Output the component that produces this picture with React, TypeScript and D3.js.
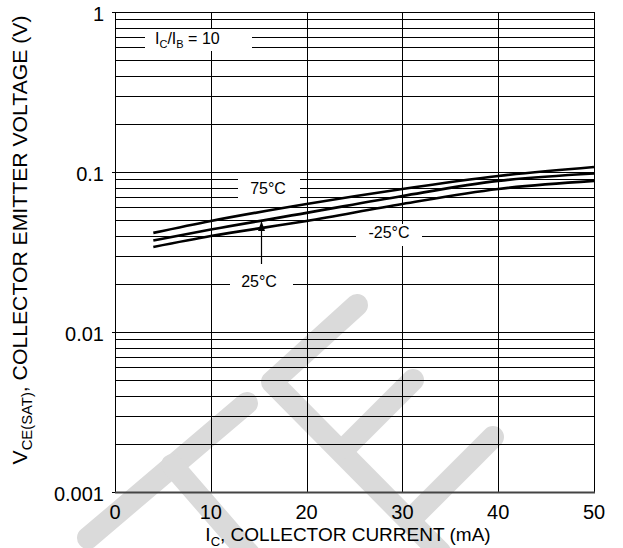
import React from "react";
import * as d3 from "d3";

const currents = [4, 10, 20, 30, 40, 50];
const vce75 = [0.0416, 0.0494, 0.0631, 0.0783, 0.0944, 0.1075];
const vce25 = [0.0373, 0.0437, 0.0555, 0.0708, 0.0879, 0.0979];
const vceM25 = [0.034, 0.0398, 0.0494, 0.0631, 0.0783, 0.0879];
const xTicks = [0, 10, 20, 30, 40, 50];
const yTicks = [0.001, 0.01, 0.1, 1];
const yTickLabels = ["0.001", "0.01", "0.1", "1"];

const W = 623;
const H = 548;
const left = 115;
const right = 594;
const top = 12;
const bottom = 492;
const FONT = "'Liberation Sans', Arial, sans-serif";

export default function App() {
  const x = d3.scaleLinear().domain([0, 50]).range([left, right]);
  const y = d3.scaleLog().domain([0.001, 1]).range([bottom, top]);

  const minor: number[] = [];
  for (let e = -3; e < 0; e++) {
    for (let m = 1; m < 10; m++) minor.push(m * Math.pow(10, e));
  }
  minor.push(1);

  const line = d3
    .line<[number, number]>()
    .x((d) => x(d[0]))
    .y((d) => y(d[1]))
    .curve(d3.curveMonotoneX);

  const series = [vce75, vce25, vceM25];

  const wm = "#dadada";
  const wmW = 22;

  return (
    <svg
      width={W}
      height={H}
      style={{ position: "absolute", left: 0, top: 0, background: "#fff" }}
      fontFamily={FONT}
    >
      <rect x={0} y={0} width={W} height={H} fill="#fff" />
      {/* watermark */}
      <g stroke={wm} strokeWidth={wmW} strokeLinecap="round" strokeLinejoin="round" fill="none">
        <polyline points="357,305 272,382 440,552" />
        <line x1={413} y1={380} x2={345} y2={448} />
        <line x1={493} y1={437} x2={415} y2={515} />
        <line x1={247} y1={403} x2={88} y2={538} />
        <line x1={172} y1={465} x2={250} y2={555} />
      </g>
      {/* grid */}
      <g stroke="#000" strokeWidth={1}>
        {minor.map((v, i) => (
          <line key={"h" + i} x1={left} x2={right} y1={Math.round(y(v)) + 0.5} y2={Math.round(y(v)) + 0.5} />
        ))}
        {xTicks.map((t) => (
          <line key={"v" + t} x1={Math.round(x(t)) + 0.5} x2={Math.round(x(t)) + 0.5} y1={top} y2={bottom} />
        ))}
      </g>
      <line x1={left} x2={right + 1} y1={bottom + 0.5} y2={bottom + 0.5} stroke="#444" strokeWidth={2} />
      {/* left tick stubs */}
      <g stroke="#000">
        {yTicks.map((t) => (
          <line key={"lt" + t} x1={left - 3} x2={left} y1={Math.round(y(t)) + 0.5} y2={Math.round(y(t)) + 0.5} />
        ))}
      </g>
      {/* curves */}
      {series.map((s, i) => (
        <path
          key={i}
          d={line(currents.map((c, j) => [c, s[j]] as [number, number])) || ""}
          fill="none"
          stroke="#000"
          strokeWidth={2.7}
        />
      ))}
      {/* label boxes */}
      <rect x={145} y={29} width={107} height={22} fill="#fff" />
      <text x={155} y={44} fontSize={16} fill="#000">
        I<tspan fontSize={11} dy={4}>C</tspan>
        <tspan dy={-4}>/I</tspan>
        <tspan fontSize={11} dy={4}>B</tspan>
        <tspan dy={-4}> = 10</tspan>
      </text>
      <rect x={238} y={175} width={62} height={23} fill="#fff" />
      <text x={268} y={194} fontSize={16} textAnchor="middle" fill="#000">75°C</text>
      <rect x={356} y={224} width={66} height={22} fill="#fff" />
      <text x={389} y={238} fontSize={16} textAnchor="middle" fill="#000">-25°C</text>
      <rect x={230} y={271} width={63} height={23} fill="#fff" />
      <text x={259} y={287} fontSize={16} textAnchor="middle" fill="#000">25°C</text>
      <line x1={261.5} x2={261.5} y1={264} y2={228} stroke="#000" strokeWidth={1.2} />
      <path d="M261.5,221 L258,231 L265,231 Z" fill="#000" />
      {/* y tick labels */}
      {yTicks.map((t, i) => (
        <text key={"yl" + t} x={104} y={y(t) + 9} fontSize={20} textAnchor="end" fill="#000">
          {yTickLabels[i]}
        </text>
      ))}
      {/* x tick labels */}
      {xTicks.map((t) => (
        <text key={"xl" + t} x={x(t)} y={519} fontSize={20} textAnchor="middle" fill="#000">
          {t}
        </text>
      ))}
      {/* axis titles */}
      <text x={348} y={541} fontSize={19} textAnchor="middle" fill="#000">
        I<tspan fontSize={13} dy={5}>C</tspan>
        <tspan dy={-5}>, COLLECTOR CURRENT (mA)</tspan>
      </text>
      <text
        transform="translate(27,240) rotate(-90) scale(1.06,1)"
        fontSize={20}
        textAnchor="middle"
        fill="#000"
      >
        V<tspan fontSize={14} dy={5}>CE(SAT)</tspan>
        <tspan dy={-5}>, COLLECTOR EMITTER VOLTAGE (V)</tspan>
      </text>
    </svg>
  );
}
